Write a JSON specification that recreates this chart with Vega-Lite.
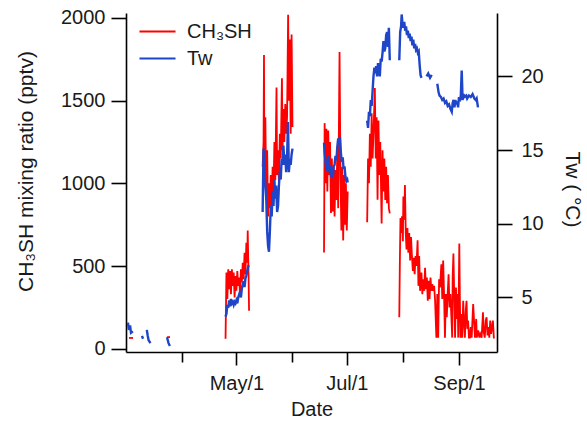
{
"$schema": "https://vega.github.io/schema/vega-lite/v6.json",
"width": 371, "height": 339,
"autosize": {"type": "none"},
"padding": {"left": 126, "top": 13, "right": 90, "bottom": 71},
"background": "white",
"config": {"view": {"stroke": null}, "font": "Liberation Sans",
 "axis": {"grid": false, "domainColor": "#000", "tickColor": "#000", "labelColor": "#1a1a1a", "titleColor": "#1a1a1a", "labelFont": "Liberation Sans", "titleFont": "Liberation Sans", "labelFontSize": 20, "titleFontSize": 20, "titleFontWeight": "normal", "domainWidth": 1.6, "tickWidth": 1.6, "labelOverlap": false}},
"datasets": {
"ch": [
{"t":"2013-03-02T16:00Z","v":65,"g":"a"},{"t":"2013-03-04T22:00Z","v":65,"g":"a"},
{"t":"2013-03-23T16:00Z","v":70,"g":"b"},{"t":"2013-03-25T08:00Z","v":70,"g":"b"},
{"t":"2013-04-25T00:00Z","v":60,"g":"c"},{"t":"2013-04-25T12:00Z","v":460,"g":"c"},{"t":"2013-04-26T00:00Z","v":300,"g":"c"},{"t":"2013-04-26T12:00Z","v":480,"g":"c"},{"t":"2013-04-27T00:00Z","v":360,"g":"c"},{"t":"2013-04-27T12:00Z","v":470,"g":"c"},{"t":"2013-04-28T00:00Z","v":330,"g":"c"},{"t":"2013-04-28T12:00Z","v":480,"g":"c"},{"t":"2013-04-29T00:00Z","v":380,"g":"c"},{"t":"2013-04-29T12:00Z","v":460,"g":"c"},{"t":"2013-04-30T00:00Z","v":310,"g":"c"},{"t":"2013-04-30T12:00Z","v":440,"g":"c"},{"t":"2013-05-01T00:00Z","v":350,"g":"c"},{"t":"2013-05-01T12:00Z","v":470,"g":"c"},{"t":"2013-05-02T00:00Z","v":380,"g":"c"},{"t":"2013-05-02T12:00Z","v":430,"g":"c"},{"t":"2013-05-03T00:00Z","v":330,"g":"c"},{"t":"2013-05-03T12:00Z","v":480,"g":"c"},{"t":"2013-05-04T00:00Z","v":400,"g":"c"},{"t":"2013-05-04T12:00Z","v":520,"g":"c"},{"t":"2013-05-05T00:00Z","v":420,"g":"c"},{"t":"2013-05-05T12:00Z","v":580,"g":"c"},{"t":"2013-05-06T00:00Z","v":450,"g":"c"},{"t":"2013-05-06T12:00Z","v":640,"g":"c"},{"t":"2013-05-07T00:00Z","v":520,"g":"c"},{"t":"2013-05-07T06:00Z","v":715,"g":"c"},{"t":"2013-05-07T18:00Z","v":420,"g":"c"},{"t":"2013-05-08T00:00Z","v":230,"g":"c"},
{"t":"2013-05-15T12:00Z","v":1100,"g":"d"},{"t":"2013-05-16T00:00Z","v":1250,"g":"d"},{"t":"2013-05-16T06:00Z","v":1776,"g":"d"},{"t":"2013-05-16T12:00Z","v":1000,"g":"d"},{"t":"2013-05-17T00:00Z","v":1400,"g":"d"},{"t":"2013-05-17T12:00Z","v":900,"g":"d"},{"t":"2013-05-18T00:00Z","v":1200,"g":"d"},{"t":"2013-05-18T12:00Z","v":800,"g":"d"},{"t":"2013-05-19T00:00Z","v":1000,"g":"d"},{"t":"2013-05-19T12:00Z","v":850,"g":"d"},{"t":"2013-05-20T00:00Z","v":1050,"g":"d"},{"t":"2013-05-20T12:00Z","v":820,"g":"d"},{"t":"2013-05-21T00:00Z","v":1100,"g":"d"},{"t":"2013-05-21T12:00Z","v":950,"g":"d"},{"t":"2013-05-22T00:00Z","v":1250,"g":"d"},{"t":"2013-05-22T12:00Z","v":1020,"g":"d"},{"t":"2013-05-23T04:00Z","v":1580,"g":"d"},{"t":"2013-05-23T12:00Z","v":1050,"g":"d"},{"t":"2013-05-24T00:00Z","v":1200,"g":"d"},{"t":"2013-05-24T12:00Z","v":1000,"g":"d"},{"t":"2013-05-25T00:00Z","v":1300,"g":"d"},{"t":"2013-05-25T12:00Z","v":1150,"g":"d"},{"t":"2013-05-26T04:00Z","v":1636,"g":"d"},{"t":"2013-05-26T12:00Z","v":1200,"g":"d"},{"t":"2013-05-27T00:00Z","v":1450,"g":"d"},{"t":"2013-05-27T12:00Z","v":1250,"g":"d"},{"t":"2013-05-28T00:00Z","v":1480,"g":"d"},{"t":"2013-05-28T12:00Z","v":1300,"g":"d"},{"t":"2013-05-29T00:00Z","v":1400,"g":"d"},{"t":"2013-05-29T14:00Z","v":2020,"g":"d"},{"t":"2013-05-30T00:00Z","v":1500,"g":"d"},{"t":"2013-05-30T12:00Z","v":1870,"g":"d"},{"t":"2013-05-31T00:00Z","v":1300,"g":"d"},{"t":"2013-05-31T12:00Z","v":1900,"g":"d"},{"t":"2013-06-01T00:00Z","v":1340,"g":"d"},
{"t":"2013-06-18T10:00Z","v":582,"g":"e"},{"t":"2013-06-18T18:00Z","v":1364,"g":"e"},{"t":"2013-06-19T06:00Z","v":1000,"g":"e"},{"t":"2013-06-19T18:00Z","v":1330,"g":"e"},{"t":"2013-06-20T06:00Z","v":950,"g":"e"},{"t":"2013-06-20T18:00Z","v":1320,"g":"e"},{"t":"2013-06-21T06:00Z","v":1050,"g":"e"},{"t":"2013-06-21T18:00Z","v":1250,"g":"e"},{"t":"2013-06-22T06:00Z","v":820,"g":"e"},{"t":"2013-06-22T18:00Z","v":1150,"g":"e"},{"t":"2013-06-23T06:00Z","v":830,"g":"e"},{"t":"2013-06-23T18:00Z","v":1100,"g":"e"},{"t":"2013-06-24T06:00Z","v":800,"g":"e"},{"t":"2013-06-24T18:00Z","v":1080,"g":"e"},{"t":"2013-06-25T06:00Z","v":900,"g":"e"},{"t":"2013-06-25T18:00Z","v":1200,"g":"e"},{"t":"2013-06-26T06:00Z","v":850,"g":"e"},{"t":"2013-06-27T00:00Z","v":1794,"g":"e"},{"t":"2013-06-27T12:00Z","v":1050,"g":"e"},{"t":"2013-06-28T00:00Z","v":715,"g":"e"},{"t":"2013-06-28T12:00Z","v":1100,"g":"e"},{"t":"2013-06-29T00:00Z","v":655,"g":"e"},{"t":"2013-06-29T12:00Z","v":1050,"g":"e"},{"t":"2013-06-30T00:00Z","v":750,"g":"e"},{"t":"2013-06-30T12:00Z","v":1000,"g":"e"},{"t":"2013-07-01T00:00Z","v":715,"g":"e"},{"t":"2013-07-01T12:00Z","v":950,"g":"e"},
{"t":"2013-07-12T06:00Z","v":764,"g":"f"},{"t":"2013-07-12T18:00Z","v":1150,"g":"f"},{"t":"2013-07-13T06:00Z","v":1000,"g":"f"},{"t":"2013-07-13T18:00Z","v":1300,"g":"f"},{"t":"2013-07-14T06:00Z","v":1100,"g":"f"},{"t":"2013-07-14T18:00Z","v":1424,"g":"f"},{"t":"2013-07-15T06:00Z","v":1150,"g":"f"},{"t":"2013-07-15T18:00Z","v":1300,"g":"f"},{"t":"2013-07-16T12:00Z","v":1576,"g":"f"},{"t":"2013-07-17T00:00Z","v":1150,"g":"f"},{"t":"2013-07-17T12:00Z","v":1400,"g":"f"},{"t":"2013-07-18T00:00Z","v":900,"g":"f"},{"t":"2013-07-18T12:00Z","v":1380,"g":"f"},{"t":"2013-07-19T00:00Z","v":1050,"g":"f"},{"t":"2013-07-19T12:00Z","v":1250,"g":"f"},{"t":"2013-07-20T06:00Z","v":757,"g":"f"},{"t":"2013-07-20T18:00Z","v":1200,"g":"f"},{"t":"2013-07-21T06:00Z","v":950,"g":"f"},{"t":"2013-07-21T18:00Z","v":1150,"g":"f"},{"t":"2013-07-22T06:00Z","v":900,"g":"f"},{"t":"2013-07-22T18:00Z","v":1100,"g":"f"},{"t":"2013-07-23T06:00Z","v":880,"g":"f"},{"t":"2013-07-23T18:00Z","v":1050,"g":"f"},{"t":"2013-07-24T06:00Z","v":850,"g":"f"},{"t":"2013-07-24T18:00Z","v":818,"g":"f"},
{"t":"2013-07-30T00:00Z","v":190,"g":"h"},{"t":"2013-07-30T08:00Z","v":533,"g":"h"},{"t":"2013-07-30T16:00Z","v":790,"g":"h"},{"t":"2013-07-31T00:00Z","v":700,"g":"h"},{"t":"2013-07-31T12:00Z","v":800,"g":"h"},{"t":"2013-08-01T00:00Z","v":650,"g":"h"},{"t":"2013-08-01T06:00Z","v":920,"g":"h"},{"t":"2013-08-01T18:00Z","v":780,"g":"h"},{"t":"2013-08-02T03:00Z","v":990,"g":"h"},{"t":"2013-08-02T14:00Z","v":700,"g":"h"},{"t":"2013-08-03T00:00Z","v":600,"g":"h"},{"t":"2013-08-03T12:00Z","v":730,"g":"h"},{"t":"2013-08-04T00:00Z","v":580,"g":"h"},{"t":"2013-08-04T12:00Z","v":700,"g":"h"},{"t":"2013-08-05T00:00Z","v":533,"g":"h"},{"t":"2013-08-05T12:00Z","v":675,"g":"h"},{"t":"2013-08-06T00:00Z","v":560,"g":"h"},{"t":"2013-08-06T12:00Z","v":470,"g":"h"},{"t":"2013-08-07T00:00Z","v":550,"g":"h"},{"t":"2013-08-07T12:00Z","v":450,"g":"h"},{"t":"2013-08-08T00:00Z","v":560,"g":"h"},{"t":"2013-08-08T12:00Z","v":500,"g":"h"},{"t":"2013-08-09T03:00Z","v":655,"g":"h"},{"t":"2013-08-09T14:00Z","v":380,"g":"h"},{"t":"2013-08-10T00:00Z","v":560,"g":"h"},{"t":"2013-08-10T12:00Z","v":350,"g":"h"},{"t":"2013-08-11T06:00Z","v":460,"g":"h"},{"t":"2013-08-11T18:00Z","v":330,"g":"h"},{"t":"2013-08-12T06:00Z","v":420,"g":"h"},{"t":"2013-08-12T18:00Z","v":350,"g":"h"},{"t":"2013-08-13T06:00Z","v":490,"g":"h"},{"t":"2013-08-13T18:00Z","v":360,"g":"h"},{"t":"2013-08-14T06:00Z","v":430,"g":"h"},{"t":"2013-08-14T18:00Z","v":290,"g":"h"},{"t":"2013-08-15T06:00Z","v":410,"g":"h"},{"t":"2013-08-15T18:00Z","v":300,"g":"h"},{"t":"2013-08-16T06:00Z","v":430,"g":"h"},{"t":"2013-08-16T18:00Z","v":350,"g":"h"},{"t":"2013-08-17T06:00Z","v":390,"g":"h"},{"t":"2013-08-17T18:00Z","v":350,"g":"h"},{"t":"2013-08-18T06:00Z","v":380,"g":"h"},{"t":"2013-08-18T18:00Z","v":300,"g":"h"},{"t":"2013-08-19T12:00Z","v":67,"g":"h"},{"t":"2013-08-20T00:00Z","v":330,"g":"h"},{"t":"2013-08-20T12:00Z","v":67,"g":"h"},{"t":"2013-08-21T00:00Z","v":420,"g":"h"},{"t":"2013-08-21T12:00Z","v":370,"g":"h"},{"t":"2013-08-22T06:00Z","v":510,"g":"h"},{"t":"2013-08-22T18:00Z","v":300,"g":"h"},{"t":"2013-08-23T06:00Z","v":533,"g":"h"},{"t":"2013-08-23T18:00Z","v":330,"g":"h"},{"t":"2013-08-24T06:00Z","v":67,"g":"h"},{"t":"2013-08-24T18:00Z","v":330,"g":"h"},{"t":"2013-08-25T06:00Z","v":190,"g":"h"},{"t":"2013-08-25T18:00Z","v":330,"g":"h"},{"t":"2013-08-26T06:00Z","v":450,"g":"h"},{"t":"2013-08-26T18:00Z","v":250,"g":"h"},{"t":"2013-08-27T06:00Z","v":330,"g":"h"},{"t":"2013-08-27T18:00Z","v":200,"g":"h"},{"t":"2013-08-28T06:00Z","v":67,"g":"h"},{"t":"2013-08-28T12:00Z","v":430,"g":"h"},{"t":"2013-08-28T22:00Z","v":575,"g":"h"},{"t":"2013-08-29T12:00Z","v":250,"g":"h"},{"t":"2013-08-29T20:00Z","v":67,"g":"h"},{"t":"2013-08-30T08:00Z","v":370,"g":"h"},{"t":"2013-08-30T18:00Z","v":180,"g":"h"},{"t":"2013-08-31T06:00Z","v":330,"g":"h"},{"t":"2013-08-31T14:00Z","v":67,"g":"h"},{"t":"2013-09-01T04:00Z","v":636,"g":"h"},{"t":"2013-09-01T12:00Z","v":290,"g":"h"},{"t":"2013-09-01T20:00Z","v":67,"g":"h"},{"t":"2013-09-02T08:00Z","v":210,"g":"h"},{"t":"2013-09-02T18:00Z","v":67,"g":"h"},{"t":"2013-09-03T08:00Z","v":290,"g":"h"},{"t":"2013-09-03T20:00Z","v":150,"g":"h"},{"t":"2013-09-04T06:00Z","v":67,"g":"h"},{"t":"2013-09-04T18:00Z","v":230,"g":"h"},{"t":"2013-09-05T04:00Z","v":290,"g":"h"},{"t":"2013-09-05T14:00Z","v":120,"g":"h"},{"t":"2013-09-06T00:00Z","v":170,"g":"h"},{"t":"2013-09-06T12:00Z","v":67,"g":"h"},{"t":"2013-09-07T00:00Z","v":67,"g":"h"},{"t":"2013-09-07T12:00Z","v":130,"g":"h"},{"t":"2013-09-08T00:00Z","v":67,"g":"h"},{"t":"2013-09-08T20:00Z","v":270,"g":"h"},{"t":"2013-09-09T10:00Z","v":150,"g":"h"},{"t":"2013-09-09T20:00Z","v":67,"g":"h"},{"t":"2013-09-10T12:00Z","v":180,"g":"h"},{"t":"2013-09-10T20:00Z","v":67,"g":"h"},{"t":"2013-09-11T14:00Z","v":110,"g":"h"},{"t":"2013-09-12T06:00Z","v":67,"g":"h"},{"t":"2013-09-12T18:00Z","v":90,"g":"h"},{"t":"2013-09-13T12:00Z","v":67,"g":"h"},{"t":"2013-09-14T06:00Z","v":220,"g":"h"},{"t":"2013-09-14T16:00Z","v":100,"g":"h"},{"t":"2013-09-15T06:00Z","v":67,"g":"h"},{"t":"2013-09-15T18:00Z","v":170,"g":"h"},{"t":"2013-09-16T06:00Z","v":190,"g":"h"},{"t":"2013-09-16T18:00Z","v":80,"g":"h"},{"t":"2013-09-17T06:00Z","v":130,"g":"h"},{"t":"2013-09-17T18:00Z","v":67,"g":"h"},{"t":"2013-09-18T06:00Z","v":170,"g":"h"},{"t":"2013-09-18T18:00Z","v":90,"g":"h"},{"t":"2013-09-19T06:00Z","v":130,"g":"h"},{"t":"2013-09-19T18:00Z","v":170,"g":"h"},{"t":"2013-09-20T06:00Z","v":67,"g":"h"},{"t":"2013-09-20T18:00Z","v":67,"g":"h"}
],
"tw": [
{"t":"2013-03-02T02:00Z","v":3.3,"g":"a"},{"t":"2013-03-02T14:00Z","v":2.8,"g":"a"},{"t":"2013-03-03T06:00Z","v":3.1,"g":"a"},{"t":"2013-03-03T18:00Z","v":2.6,"g":"a"},{"t":"2013-03-04T20:00Z","v":2.7,"g":"a"},
{"t":"2013-03-09T20:00Z","v":2.4,"g":"b"},{"t":"2013-03-10T10:00Z","v":2.2,"g":"b"},
{"t":"2013-03-12T12:00Z","v":2.8,"g":"c"},{"t":"2013-03-13T00:00Z","v":2.4,"g":"c"},{"t":"2013-03-13T12:00Z","v":2.1,"g":"c"},{"t":"2013-03-14T00:00Z","v":2.0,"g":"c"},{"t":"2013-03-14T12:00Z","v":1.9,"g":"c"},
{"t":"2013-03-23T16:00Z","v":2.3,"g":"d"},{"t":"2013-03-24T12:00Z","v":1.9,"g":"d"},{"t":"2013-03-25T06:00Z","v":1.7,"g":"d"},
{"t":"2013-04-25T00:00Z","v":3.7,"g":"e"},{"t":"2013-04-25T12:00Z","v":3.9,"g":"e"},{"t":"2013-04-26T00:00Z","v":4.5,"g":"e"},{"t":"2013-04-26T12:00Z","v":4.3,"g":"e"},{"t":"2013-04-27T00:00Z","v":4.8,"g":"e"},{"t":"2013-04-27T12:00Z","v":4.4,"g":"e"},{"t":"2013-04-28T00:00Z","v":4.9,"g":"e"},{"t":"2013-04-28T12:00Z","v":4.6,"g":"e"},{"t":"2013-04-29T00:00Z","v":4.7,"g":"e"},{"t":"2013-04-29T12:00Z","v":4.5,"g":"e"},{"t":"2013-04-30T00:00Z","v":4.7,"g":"e"},{"t":"2013-04-30T12:00Z","v":4.6,"g":"e"},{"t":"2013-05-01T00:00Z","v":4.8,"g":"e"},{"t":"2013-05-01T12:00Z","v":4.6,"g":"e"},{"t":"2013-05-02T00:00Z","v":5.0,"g":"e"},{"t":"2013-05-02T12:00Z","v":5.2,"g":"e"},{"t":"2013-05-03T00:00Z","v":5.4,"g":"e"},{"t":"2013-05-03T12:00Z","v":5.0,"g":"e"},{"t":"2013-05-04T00:00Z","v":5.6,"g":"e"},{"t":"2013-05-04T12:00Z","v":5.9,"g":"e"},{"t":"2013-05-05T00:00Z","v":6.1,"g":"e"},{"t":"2013-05-05T12:00Z","v":5.7,"g":"e"},{"t":"2013-05-06T00:00Z","v":6.3,"g":"e"},{"t":"2013-05-06T12:00Z","v":6.5,"g":"e"},{"t":"2013-05-07T00:00Z","v":6.8,"g":"e"},{"t":"2013-05-07T18:00Z","v":7.2,"g":"e"},
{"t":"2013-05-15T12:00Z","v":10.8,"g":"f"},{"t":"2013-05-16T00:00Z","v":15.1,"g":"f"},{"t":"2013-05-16T12:00Z","v":13.5,"g":"f"},{"t":"2013-05-17T00:00Z","v":12.6,"g":"f"},{"t":"2013-05-17T12:00Z","v":11.7,"g":"f"},{"t":"2013-05-18T00:00Z","v":9.5,"g":"f"},{"t":"2013-05-18T12:00Z","v":8.5,"g":"f"},{"t":"2013-05-19T00:00Z","v":8.1,"g":"f"},{"t":"2013-05-19T12:00Z","v":9.5,"g":"f"},{"t":"2013-05-20T00:00Z","v":11.2,"g":"f"},{"t":"2013-05-20T12:00Z","v":10.5,"g":"f"},{"t":"2013-05-21T00:00Z","v":12.2,"g":"f"},{"t":"2013-05-21T12:00Z","v":11.2,"g":"f"},{"t":"2013-05-22T00:00Z","v":13.0,"g":"f"},{"t":"2013-05-22T12:00Z","v":11.7,"g":"f"},{"t":"2013-05-23T00:00Z","v":12.6,"g":"f"},{"t":"2013-05-23T12:00Z","v":10.8,"g":"f"},{"t":"2013-05-24T00:00Z","v":11.2,"g":"f"},{"t":"2013-05-24T12:00Z","v":12.6,"g":"f"},{"t":"2013-05-25T00:00Z","v":13.5,"g":"f"},{"t":"2013-05-25T12:00Z","v":13.0,"g":"f"},{"t":"2013-05-26T00:00Z","v":14.4,"g":"f"},{"t":"2013-05-26T12:00Z","v":14.0,"g":"f"},{"t":"2013-05-27T00:00Z","v":15.3,"g":"f"},{"t":"2013-05-27T12:00Z","v":14.0,"g":"f"},{"t":"2013-05-28T00:00Z","v":14.7,"g":"f"},{"t":"2013-05-28T12:00Z","v":13.5,"g":"f"},{"t":"2013-05-29T00:00Z","v":14.5,"g":"f"},{"t":"2013-05-29T12:00Z","v":16.9,"g":"f"},{"t":"2013-05-30T00:00Z","v":13.5,"g":"f"},{"t":"2013-05-30T12:00Z","v":14.4,"g":"f"},{"t":"2013-05-31T00:00Z","v":14.0,"g":"f"},{"t":"2013-05-31T12:00Z","v":14.7,"g":"f"},{"t":"2013-06-01T00:00Z","v":15.1,"g":"f"},
{"t":"2013-06-18T10:00Z","v":15.5,"g":"g"},{"t":"2013-06-18T18:00Z","v":14.8,"g":"g"},{"t":"2013-06-19T06:00Z","v":14.2,"g":"g"},{"t":"2013-06-19T18:00Z","v":13.6,"g":"g"},{"t":"2013-06-20T06:00Z","v":13.9,"g":"g"},{"t":"2013-06-20T18:00Z","v":14.6,"g":"g"},{"t":"2013-06-21T06:00Z","v":13.5,"g":"g"},{"t":"2013-06-21T18:00Z","v":14.0,"g":"g"},{"t":"2013-06-22T06:00Z","v":13.2,"g":"g"},{"t":"2013-06-22T18:00Z","v":13.8,"g":"g"},{"t":"2013-06-23T06:00Z","v":13.1,"g":"g"},{"t":"2013-06-23T18:00Z","v":13.9,"g":"g"},{"t":"2013-06-24T06:00Z","v":14.0,"g":"g"},{"t":"2013-06-24T18:00Z","v":14.6,"g":"g"},{"t":"2013-06-25T06:00Z","v":14.3,"g":"g"},{"t":"2013-06-25T18:00Z","v":15.2,"g":"g"},{"t":"2013-06-26T06:00Z","v":15.8,"g":"g"},{"t":"2013-06-26T18:00Z","v":15.4,"g":"g"},{"t":"2013-06-27T06:00Z","v":15.9,"g":"g"},{"t":"2013-06-27T18:00Z","v":14.8,"g":"g"},{"t":"2013-06-28T06:00Z","v":14.2,"g":"g"},{"t":"2013-06-28T18:00Z","v":14.5,"g":"g"},{"t":"2013-06-29T06:00Z","v":13.7,"g":"g"},{"t":"2013-06-29T18:00Z","v":13.9,"g":"g"},{"t":"2013-06-30T06:00Z","v":13.2,"g":"g"},{"t":"2013-06-30T18:00Z","v":12.9,"g":"g"},{"t":"2013-07-01T06:00Z","v":13.0,"g":"g"},{"t":"2013-07-01T12:00Z","v":12.8,"g":"g"},
{"t":"2013-07-12T06:00Z","v":17.0,"g":"h"},{"t":"2013-07-12T18:00Z","v":16.5,"g":"h"},{"t":"2013-07-13T06:00Z","v":17.6,"g":"h"},{"t":"2013-07-13T18:00Z","v":17.3,"g":"h"},{"t":"2013-07-14T06:00Z","v":18.4,"g":"h"},{"t":"2013-07-14T18:00Z","v":18.0,"g":"h"},{"t":"2013-07-15T06:00Z","v":19.0,"g":"h"},{"t":"2013-07-15T18:00Z","v":20.0,"g":"h"},{"t":"2013-07-16T06:00Z","v":20.6,"g":"h"},{"t":"2013-07-16T18:00Z","v":20.2,"g":"h"},{"t":"2013-07-17T06:00Z","v":20.7,"g":"h"},{"t":"2013-07-17T18:00Z","v":20.0,"g":"h"},{"t":"2013-07-18T06:00Z","v":20.9,"g":"h"},{"t":"2013-07-18T18:00Z","v":20.4,"g":"h"},{"t":"2013-07-19T06:00Z","v":20.0,"g":"h"},{"t":"2013-07-19T18:00Z","v":21.2,"g":"h"},{"t":"2013-07-20T06:00Z","v":21.0,"g":"h"},{"t":"2013-07-20T18:00Z","v":21.6,"g":"h"},{"t":"2013-07-21T06:00Z","v":22.4,"g":"h"},{"t":"2013-07-21T18:00Z","v":21.7,"g":"h"},{"t":"2013-07-22T06:00Z","v":21.9,"g":"h"},{"t":"2013-07-22T18:00Z","v":22.8,"g":"h"},{"t":"2013-07-23T06:00Z","v":23.0,"g":"h"},{"t":"2013-07-23T18:00Z","v":22.0,"g":"h"},{"t":"2013-07-24T06:00Z","v":23.3,"g":"h"},{"t":"2013-07-24T18:00Z","v":21.1,"g":"h"},
{"t":"2013-07-30T00:00Z","v":21.1,"g":"i"},{"t":"2013-07-30T12:00Z","v":23.0,"g":"i"},{"t":"2013-07-31T00:00Z","v":23.4,"g":"i"},{"t":"2013-07-31T08:00Z","v":24.2,"g":"i"},{"t":"2013-07-31T18:00Z","v":23.6,"g":"i"},{"t":"2013-08-01T06:00Z","v":23.3,"g":"i"},{"t":"2013-08-01T18:00Z","v":23.7,"g":"i"},{"t":"2013-08-02T06:00Z","v":23.1,"g":"i"},{"t":"2013-08-02T18:00Z","v":23.4,"g":"i"},{"t":"2013-08-03T06:00Z","v":22.8,"g":"i"},{"t":"2013-08-03T18:00Z","v":23.1,"g":"i"},{"t":"2013-08-04T06:00Z","v":22.6,"g":"i"},{"t":"2013-08-04T18:00Z","v":22.9,"g":"i"},{"t":"2013-08-05T06:00Z","v":22.4,"g":"i"},{"t":"2013-08-05T18:00Z","v":22.7,"g":"i"},{"t":"2013-08-06T06:00Z","v":22.1,"g":"i"},{"t":"2013-08-06T18:00Z","v":22.5,"g":"i"},{"t":"2013-08-07T06:00Z","v":21.9,"g":"i"},{"t":"2013-08-07T18:00Z","v":22.2,"g":"i"},{"t":"2013-08-08T06:00Z","v":21.8,"g":"i"},{"t":"2013-08-08T18:00Z","v":21.9,"g":"i"},{"t":"2013-08-09T06:00Z","v":21.6,"g":"i"},{"t":"2013-08-09T18:00Z","v":21.7,"g":"i"},{"t":"2013-08-10T06:00Z","v":20.8,"g":"i"},{"t":"2013-08-10T18:00Z","v":20.1,"g":"i"},{"t":"2013-08-11T06:00Z","v":19.9,"g":"i"},
{"t":"2013-08-14T02:00Z","v":20.0,"g":"j"},{"t":"2013-08-15T00:00Z","v":20.2,"g":"j"},{"t":"2013-08-16T00:00Z","v":19.9,"g":"j"},{"t":"2013-08-16T22:00Z","v":20.1,"g":"j"},
{"t":"2013-08-20T00:00Z","v":19.5,"g":"k"},{"t":"2013-08-20T18:00Z","v":18.9,"g":"k"},{"t":"2013-08-21T06:00Z","v":18.7,"g":"k"},{"t":"2013-08-22T00:00Z","v":18.6,"g":"k"},{"t":"2013-08-22T18:00Z","v":18.4,"g":"k"},{"t":"2013-08-23T12:00Z","v":18.5,"g":"k"},{"t":"2013-08-24T06:00Z","v":18.2,"g":"k"},{"t":"2013-08-25T00:00Z","v":18.3,"g":"k"},{"t":"2013-08-25T18:00Z","v":18.0,"g":"k"},{"t":"2013-08-26T12:00Z","v":18.1,"g":"k"},{"t":"2013-08-27T06:00Z","v":17.8,"g":"k"},{"t":"2013-08-28T00:00Z","v":17.6,"g":"k"},{"t":"2013-08-28T12:00Z","v":18.2,"g":"k"},{"t":"2013-08-29T00:00Z","v":18.4,"g":"k"},{"t":"2013-08-29T12:00Z","v":17.9,"g":"k"},{"t":"2013-08-30T00:00Z","v":18.4,"g":"k"},{"t":"2013-08-30T12:00Z","v":18.1,"g":"k"},{"t":"2013-08-31T00:00Z","v":18.3,"g":"k"},{"t":"2013-08-31T12:00Z","v":17.9,"g":"k"},{"t":"2013-09-01T00:00Z","v":18.6,"g":"k"},{"t":"2013-09-01T12:00Z","v":18.3,"g":"k"},{"t":"2013-09-02T00:00Z","v":18.7,"g":"k"},{"t":"2013-09-02T12:00Z","v":20.4,"g":"k"},{"t":"2013-09-03T00:00Z","v":18.4,"g":"k"},{"t":"2013-09-03T12:00Z","v":18.8,"g":"k"},{"t":"2013-09-04T00:00Z","v":18.6,"g":"k"},{"t":"2013-09-05T00:00Z","v":18.7,"g":"k"},{"t":"2013-09-05T12:00Z","v":18.5,"g":"k"},{"t":"2013-09-06T12:00Z","v":18.7,"g":"k"},{"t":"2013-09-07T12:00Z","v":18.6,"g":"k"},{"t":"2013-09-08T12:00Z","v":18.8,"g":"k"},{"t":"2013-09-09T12:00Z","v":18.5,"g":"k"},{"t":"2013-09-10T06:00Z","v":18.4,"g":"k"},{"t":"2013-09-10T18:00Z","v":18.5,"g":"k"},{"t":"2013-09-11T12:00Z","v":17.9,"g":"k"}
]
},
"encoding": {
 "x": {"field": "t", "type": "temporal",
  "scale": {"type": "utc", "domain": [{"year": 2013, "month": 3, "date": 1, "utc": true}, {"year": 2013, "month": 9, "date": 22, "utc": true}]},
  "axis": {"title": "Date", "values": [{"year": 2013, "month": 4, "date": 1, "utc": true}, {"year": 2013, "month": 5, "date": 1, "utc": true}, {"year": 2013, "month": 6, "date": 1, "utc": true}, {"year": 2013, "month": 7, "date": 1, "utc": true}, {"year": 2013, "month": 8, "date": 1, "utc": true}, {"year": 2013, "month": 9, "date": 1, "utc": true}],
   "labelExpr": "utcmonth(datum.value) % 2 == 0 ? utcFormat(datum.value, '%b/%-d') : ''",
   "tickSize": {"condition": {"test": "utcmonth(datum.value) % 2 == 0", "value": 13}, "value": 10},
   "labelPadding": 8, "titlePadding": 6}}
},
"layer": [
 {"data": {"name": "ch"},
  "mark": {"type": "line", "strokeWidth": 1.8, "clip": true},
  "encoding": {
   "y": {"field": "v", "type": "quantitative", "scale": {"domain": [-20, 2030], "nice": false, "zero": false},
    "axis": {"orient": "left", "title": "CH₃SH mixing ratio (pptv)", "format": "d", "values": [0, 500, 1000, 1500, 2000], "tickSize": 15, "labelPadding": 6, "titleFontSize": 21, "titleX": -90, "titleY": 158}},
   "color": {"datum": "CH₃SH", "type": "nominal",
    "scale": {"domain": ["CH₃SH", "Tw"], "range": ["#ff0000", "#1f45c8"]},
    "legend": {"orient": "none", "legendX": 12, "legendY": 8, "title": null, "padding": 0, "symbolType": "stroke", "symbolSize": 1300, "symbolStrokeWidth": 2, "labelFontSize": 20, "labelColor": "#1a1a1a", "labelOffset": 10, "clipHeight": 21, "rowPadding": 6}},
   "detail": {"field": "g"}}},
 {"data": {"name": "tw"},
  "mark": {"type": "line", "strokeWidth": 2.4, "clip": true},
  "encoding": {
   "y": {"field": "v", "type": "quantitative", "scale": {"domain": [1.3, 24.3], "nice": false, "zero": false},
    "axis": {"orient": "right", "title": "Tw ( °C)", "values": [5, 10, 15, 20], "tickSize": 15, "labelPadding": 9, "titleFontSize": 21, "titleX": 64, "titleY": 176}},
   "color": {"datum": "Tw", "type": "nominal"},
   "detail": {"field": "g"}}}
],
"resolve": {"scale": {"y": "independent"}}
}
